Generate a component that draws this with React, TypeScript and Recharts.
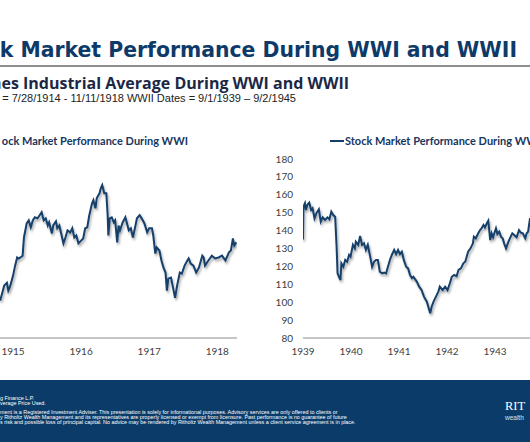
import { Line, LineChart, XAxis, YAxis } from "recharts"

// WWI: date as fractional year (7/28/1914 = 1914.57), Dow level
const wwiDates = [
	1915.38, 1915.4, 1915.44, 1915.48, 1915.5, 1915.53, 1915.57, 1915.6, 1915.63, 1915.65,
	1915.68, 1915.71, 1915.73, 1915.77, 1915.8, 1915.83, 1915.86, 1915.89, 1915.93, 1915.97,
	1915.99, 1916.02, 1916.05, 1916.08, 1916.1, 1916.14, 1916.16, 1916.2, 1916.22, 1916.25,
	1916.29, 1916.31, 1916.34, 1916.37, 1916.41, 1916.44, 1916.47, 1916.5, 1916.53, 1916.57,
	1916.6, 1916.63, 1916.66, 1916.69, 1916.73, 1916.75, 1916.78, 1916.8, 1916.84, 1916.86,
	1916.88, 1916.91, 1916.94, 1916.96, 1916.97, 1916.99, 1917.02, 1917.05, 1917.07, 1917.1,
	1917.12, 1917.14, 1917.18, 1917.22, 1917.24, 1917.27, 1917.3, 1917.33, 1917.36, 1917.39,
	1917.43, 1917.46, 1917.5, 1917.54, 1917.57, 1917.61, 1917.63, 1917.66, 1917.68, 1917.72,
	1917.75, 1917.78, 1917.81, 1917.83, 1917.85, 1917.89, 1917.92, 1917.95, 1917.98, 1918.02,
	1918.05, 1918.09, 1918.13, 1918.15, 1918.18, 1918.22, 1918.26, 1918.3, 1918.35, 1918.37,
	1918.39, 1918.44, 1918.49, 1918.54, 1918.59, 1918.64, 1918.69, 1918.74, 1918.77, 1918.8,
	1918.82, 1918.85,
]
const wwiDow = [
	64.6, 66.5, 70.5, 71.6, 68.5, 70.5, 74.4, 78.3, 81.5, 81.1,
	81.5, 82.2, 89.3, 94.8, 96.0, 93.3, 96.0, 97.2, 96.8, 98.4,
	99.2, 96.0, 96.8, 94.0, 95.2, 90.9, 94.0, 95.6, 92.9, 94.0,
	89.3, 87.0, 89.3, 92.1, 91.3, 92.9, 89.3, 90.1, 87.0, 88.1,
	88.9, 92.9, 93.3, 98.0, 102.7, 103.9, 100.7, 104.7, 106.6, 108.6,
	109.8, 106.6, 106.6, 98.0, 90.1, 96.8, 97.2, 95.2, 96.0, 87.4,
	94.0, 92.1, 95.2, 97.2, 95.2, 92.1, 92.9, 89.3, 92.9, 96.8,
	98.0, 96.8, 94.8, 91.3, 92.9, 92.9, 90.1, 83.0, 85.4, 84.2,
	80.3, 77.5, 75.6, 68.5, 73.2, 73.6, 69.7, 65.7, 70.5, 75.6,
	75.2, 78.3, 80.3, 81.1, 79.1, 78.3, 75.6, 77.5, 82.2, 81.5,
	78.3, 80.3, 82.2, 81.1, 81.5, 82.2, 80.3, 83.4, 84.2, 88.9,
	86.2, 87.4,
]
const wwiTicks = [1915.57, 1916.57, 1917.57, 1918.57]
const wwiTickLabels = ["1915", "1916", "1917", "1918"]

// WWII: 9/1/1939 = 1939.67
const wwiiDates = [
	1939.67, 1939.68, 1939.71, 1939.73, 1939.76, 1939.8, 1939.84, 1939.87, 1939.91, 1939.95,
	1940.0, 1940.04, 1940.08, 1940.13, 1940.18, 1940.22, 1940.26, 1940.3, 1940.34, 1940.37,
	1940.39, 1940.42, 1940.45, 1940.47, 1940.51, 1940.55, 1940.59, 1940.63, 1940.66, 1940.71,
	1940.75, 1940.77, 1940.82, 1940.86, 1940.9, 1940.94, 1940.98, 1941.02, 1941.07, 1941.11,
	1941.15, 1941.19, 1941.23, 1941.27, 1941.32, 1941.36, 1941.4, 1941.44, 1941.48, 1941.52,
	1941.57, 1941.61, 1941.65, 1941.69, 1941.73, 1941.77, 1941.82, 1941.86, 1941.9, 1941.94,
	1941.97, 1942.04, 1942.09, 1942.14, 1942.19, 1942.25, 1942.32, 1942.35, 1942.39, 1942.44,
	1942.49, 1942.52, 1942.58, 1942.63, 1942.68, 1942.73, 1942.77, 1942.82, 1942.87, 1942.91,
	1942.96, 1943.01, 1943.05, 1943.08, 1943.11, 1943.16, 1943.21, 1943.23, 1943.27, 1943.32,
	1943.36, 1943.39, 1943.43, 1943.46, 1943.5, 1943.53, 1943.57, 1943.6, 1943.63, 1943.69,
	1943.72, 1943.76, 1943.8, 1943.83, 1943.86, 1943.9, 1943.95, 1943.98, 1944.03, 1944.07,
	1944.12, 1944.17, 1944.21, 1944.25, 1944.3, 1944.33, 1944.36, 1944.4,
]
const wwiiDow = [
	135.1, 153.4, 155.3, 151.5, 154.3, 155.6, 151.5, 152.5, 146.9, 149.7,
	151.9, 145.0, 147.4, 145.9, 147.4, 146.3, 150.6, 148.7, 147.8, 131.0,
	116.1, 114.2, 112.4, 121.7, 119.8, 123.6, 122.6, 126.4, 125.4, 132.0,
	130.1, 133.8, 132.0, 137.0, 132.0, 132.9, 129.2, 132.0, 125.4, 119.8,
	122.6, 123.6, 123.6, 117.0, 116.1, 116.5, 116.1, 119.8, 123.6, 126.4,
	129.2, 126.9, 129.2, 126.9, 128.2, 123.6, 119.8, 118.9, 115.2, 113.4,
	114.2, 111.5, 108.7, 106.8, 103.1, 100.3, 93.8, 97.5, 100.3, 103.1,
	105.9, 108.7, 106.8, 108.7, 106.8, 110.6, 114.2, 115.2, 114.6, 118.0,
	118.9, 121.7, 122.6, 125.4, 128.2, 130.1, 132.9, 136.6, 135.7, 138.5,
	140.3, 141.3, 143.1, 141.8, 144.1, 145.5, 134.7, 138.5, 136.3, 141.3,
	138.1, 139.4, 136.3, 135.7, 132.9, 130.1, 133.8, 135.7, 138.5, 137.5,
	136.3, 140.3, 138.8, 138.5, 135.7, 138.5, 139.4, 146.9,
]
const wwiiTicks = [1939.67, 1940.67, 1941.67, 1942.67, 1943.67]
const wwiiTickLabels = ["1939", "1940", "1941", "1942", "1943"]
const wwiiYTicks = [80, 90, 100, 110, 120, 130, 140, 150, 160, 170, 180]

const footerLines = [
	"g Finance L.P.",
	"verage Price Used.",
	"ment is a Registered Investment Adviser. This presentation is solely for informational purposes. Advisory services are only offered to clients or",
	"y Ritholtz Wealth Management and its representatives are properly licensed or exempt from licensure. Past performance is no guarantee of future",
	"s risk and possible loss of principal capital. No advice may be rendered by Ritholtz Wealth Management unless a client service agreement is in place.",
]
const footerTops = [396, 401, 410, 415, 420]

const navy = "#0d3a68"
const lineColor = "#143f6b"
const tickStyle = { fill: "#404040", fontSize: 10, fontFamily: "Lato" }

const wwiData = wwiDates.map((date, i) => ({ date, dow: wwiDow[i] }))
const wwiiData = wwiiDates.map((date, i) => ({ date, dow: wwiiDow[i] }))

function shadowDefs(id: string) {
	return (
		<defs>
			<filter id={id} x="-5%" y="-10%" width="110%" height="130%">
				<feDropShadow dx="1.2" dy="2.2" stdDeviation="1.3" floodColor="#000" floodOpacity="0.35" />
			</filter>
		</defs>
	)
}

function App() {
	return (
		<div
			style={{
				position: "absolute",
				left: 0,
				top: 0,
				width: 530,
				height: 442,
				overflow: "hidden",
				background: "#fff",
			}}
		>
			<div
				style={{
					position: "absolute",
					right: 13,
					top: 39,
					fontFamily: "DejaVu Sans",
					fontWeight: 700,
					fontSize: 20.4,
					lineHeight: "22px",
					color: navy,
					whiteSpace: "nowrap",
				}}
			>
				k Market Performance During WWI and WWII
			</div>
			<div style={{ position: "absolute", left: 0, top: 65, width: 530, height: 2, background: "#8f8f8f" }} />
			<div
				style={{
					position: "absolute",
					right: 181,
					top: 75,
					fontFamily: "Open Sans",
					fontWeight: 700,
					fontSize: 16,
					lineHeight: "16px",
					color: "#1b2845",
					whiteSpace: "nowrap",
				}}
			>
				nes Industrial Average During WWI and WWII
			</div>
			<div
				style={{
					position: "absolute",
					right: 234,
					top: 93,
					fontFamily: "Liberation Sans",
					fontSize: 11,
					lineHeight: "11px",
					color: "#222",
					whiteSpace: "nowrap",
				}}
			>
				= 7/28/1914 - 11/11/1918 WWII Dates = 9/1/1939 – 9/2/1945
			</div>

			{/* legends */}
			<div
				style={{
					position: "absolute",
					right: 342,
					top: 134,
					fontFamily: "Lato",
					fontWeight: 700,
					fontSize: 11,
					lineHeight: "14px",
					color: "#17375e",
					whiteSpace: "nowrap",
				}}
			>
				ock Market Performance During WWI
			</div>
			<div
				style={{
					position: "absolute",
					left: 330,
					top: 134,
					display: "flex",
					alignItems: "center",
					fontFamily: "Lato",
					fontWeight: 700,
					fontSize: 11,
					lineHeight: "14px",
					color: "#17375e",
					whiteSpace: "nowrap",
				}}
			>
				<span style={{ display: "inline-block", width: 14, height: 1.5, background: lineColor, marginRight: 1 }} />
				Stock Market Performance During WWII
			</div>

			<div style={{ position: "absolute", left: -55, top: 130 }}>
				<LineChart width={292} height={238} data={wwiData} margin={{ top: 29, right: 0, bottom: 0, left: 0 }}>
					{shadowDefs("shadowWwi")}
					<XAxis
						dataKey="date"
						type="number"
						domain={[1914.57, 1918.86]}
						ticks={wwiTicks}
						interval={0}
						allowDataOverflow
						tickFormatter={(v) => wwiTickLabels[wwiTicks.indexOf(v)]}
						axisLine={{ stroke: "#b3b3b3", strokeWidth: 1.5 }}
						tickLine={false}
						tick={tickStyle}
						tickMargin={4}
						height={30}
					/>
					<YAxis hide type="number" domain={[50, 120]} allowDataOverflow />
					<Line
						type="linear"
						dataKey="dow"
						stroke={lineColor}
						strokeWidth={2}
						dot={false}
						activeDot={false}
						filter="url(#shadowWwi)"
						isAnimationActive={false}
					/>
				</LineChart>
			</div>

			<div style={{ position: "absolute", left: 250, top: 130 }}>
				<LineChart width={346} height={238} data={wwiiData} margin={{ top: 29, right: 5, bottom: 0, left: 13 }}>
					{shadowDefs("shadowWwii")}
					<XAxis
						dataKey="date"
						type="number"
						domain={[1939.67, 1945.67]}
						ticks={wwiiTicks}
						interval={0}
						allowDataOverflow
						tickFormatter={(v) => wwiiTickLabels[wwiiTicks.indexOf(v)]}
						axisLine={{ stroke: "#b3b3b3", strokeWidth: 1.5 }}
						tickLine={false}
						tick={tickStyle}
						tickMargin={4}
						height={30}
					/>
					<YAxis
						type="number"
						domain={[80, 180]}
						ticks={wwiiYTicks}
						interval={0}
						width={40}
						axisLine={false}
						tickLine={false}
						tick={tickStyle}
						tickMargin={4}
					/>
					<Line
						type="linear"
						dataKey="dow"
						stroke={lineColor}
						strokeWidth={2}
						dot={false}
						activeDot={false}
						filter="url(#shadowWwii)"
						isAnimationActive={false}
					/>
				</LineChart>
			</div>

			{/* footer band */}
			<div style={{ position: "absolute", left: 0, top: 380, width: 530, height: 62, background: "#0b3b69" }} />
			{footerLines.map((text, i) => (
				<div
					key={i}
					style={{
						position: "absolute",
						left: 0,
						top: footerTops[i],
						fontFamily: "Liberation Sans",
						fontSize: 5.4,
						lineHeight: "5px",
						color: "#fff",
						whiteSpace: "nowrap",
					}}
				>
					{text}
				</div>
			))}
			<div
				style={{
					position: "absolute",
					left: 505,
					top: 401,
					fontFamily: "Liberation Serif",
					fontSize: 12.5,
					lineHeight: "10px",
					color: "#fff",
					whiteSpace: "nowrap",
				}}
			>
				RIT
			</div>
			<div
				style={{
					position: "absolute",
					left: 505,
					top: 414.5,
					fontFamily: "Liberation Sans",
					fontSize: 6.5,
					lineHeight: "5px",
					color: "#dfe6ee",
					whiteSpace: "nowrap",
				}}
			>
				wealth
			</div>
		</div>
	)
}

export default App
